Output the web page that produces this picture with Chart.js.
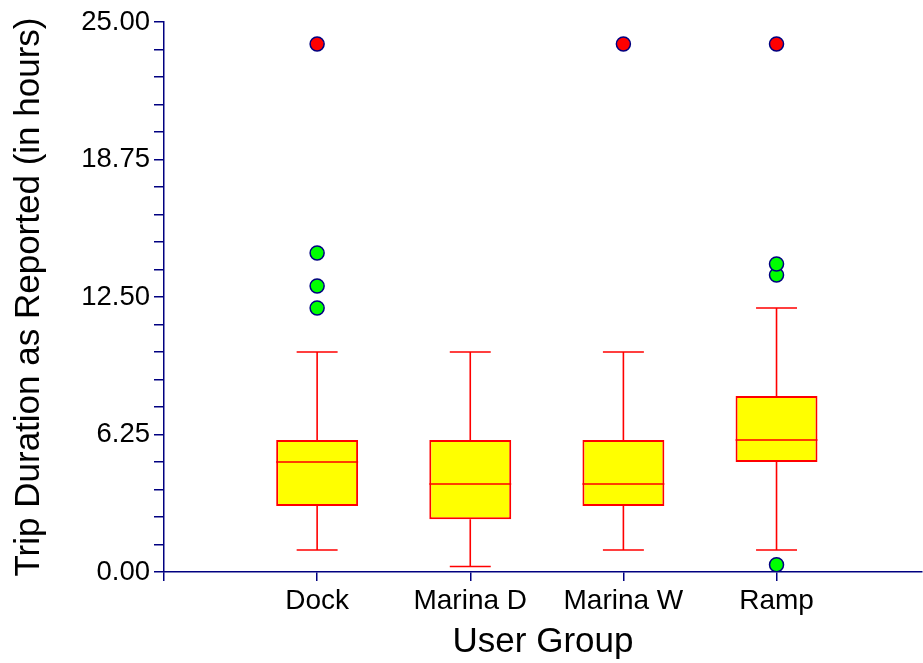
<!DOCTYPE html>
<html>
<head>
<meta charset="utf-8">
<script src="https://cdn.jsdelivr.net/npm/chart.js@4/dist/chart.umd.min.js"></script>
<style>
html,body{margin:0;padding:0;background:#fff;}
#wrap{width:923px;height:663px;}
</style>
</head>
<body>
<div id="wrap"><canvas id="chartTrips"></canvas></div>
<script>

// boat trip durations by user group (hours)
const groups = ["Dock", "Marina D", "Marina W", "Ramp"];
const groupPos = [1, 2, 3, 4];
const lowWhisker = [1, 0.25, 1, 1];
const q1 = [3, 2.4, 3, 5];
const median = [5, 4, 4, 6];
const q3 = [6, 6, 6, 8];
const highWhisker = [10, 10, 10, 12];
const nearOutliers = [[12, 13, 14.5], [], [], [0.33, 13.5, 14]];
const farOutliers = [[24], [], [24], [24]];

const yMin = 0;
const yMax = 25;
const yStep = 1.25;
const yLabelStep = 6.25;

const NAVY = "#000080";
const RED = "#ff0000";
const FONT = "'Liberation Sans', Arial, sans-serif";
const BOX_W = 0.535;   // box width in x units

function points(list){
  let out = [];
  list.forEach((vals, i) => vals.forEach(v => out.push({x: groupPos[i], y: v})));
  return out;
}

/* whiskers + medians */
const boxPlotLines = {
  id: "boxPlotLines",
  afterDatasetsDraw(chart){
    const x = chart.scales.x, y = chart.scales.y, ctx = chart.ctx;
    ctx.save();
    ctx.strokeStyle = RED;
    ctx.lineWidth = 1.6;
    groupPos.forEach((g, i) => {
      let cx = x.getPixelForValue(g);
      let capL = x.getPixelForValue(g - BOX_W / 4);
      let capR = x.getPixelForValue(g + BOX_W / 4);
      let boxL = x.getPixelForValue(g - BOX_W / 2);
      let boxR = x.getPixelForValue(g + BOX_W / 2);
      ctx.beginPath();
      ctx.moveTo(cx, y.getPixelForValue(q3[i]));
      ctx.lineTo(cx, y.getPixelForValue(highWhisker[i]));
      ctx.moveTo(capL, y.getPixelForValue(highWhisker[i]));
      ctx.lineTo(capR, y.getPixelForValue(highWhisker[i]));
      ctx.moveTo(cx, y.getPixelForValue(q1[i]));
      ctx.lineTo(cx, y.getPixelForValue(lowWhisker[i]));
      ctx.moveTo(capL, y.getPixelForValue(lowWhisker[i]));
      ctx.lineTo(capR, y.getPixelForValue(lowWhisker[i]));
      ctx.moveTo(boxL, y.getPixelForValue(median[i]));
      ctx.lineTo(boxR, y.getPixelForValue(median[i]));
      ctx.stroke();
    });
    ctx.restore();
  }
};

new Chart(document.getElementById("chartTrips"), {
  data: {
    datasets: [
      {
        type: "bar",
        data: groupPos.map((g, i) => ({x: g, y: [q1[i], q3[i]]})),
        backgroundColor: "#ffff00",
        borderColor: RED,
        borderWidth: 2,
        borderSkipped: false,
        categoryPercentage: 1,
        barPercentage: BOX_W,
        order: 3
      },
      {
        type: "scatter",
        data: points(nearOutliers),
        backgroundColor: "#00ff00",
        borderColor: NAVY,
        borderWidth: 1.5,
        pointRadius: 7,
        order: 1
      },
      {
        type: "scatter",
        data: points(farOutliers),
        backgroundColor: RED,
        borderColor: NAVY,
        borderWidth: 1.5,
        pointRadius: 7,
        order: 1
      }
    ]
  },
  options: {
    responsive: true,
    maintainAspectRatio: false,
    animation: false,
    layout: {autoPadding: false, padding: {top: 22, right: 1, left: 0, bottom: 0}},
    plugins: {legend: {display: false}, tooltip: {enabled: false}},
    scales: {
      x: {
        type: "linear",
        offset: false,
        min: 0,
        max: 4.95,
        afterBuildTicks: s => { s.ticks = [0].concat(groupPos).map(v => ({value: v})); },
        afterFit: s => { s.height = 91; },
        ticks: {
          autoSkip: false,
          maxRotation: 0,
          padding: 3,
          color: "#000",
          font: {family: FONT, size: 28},
          callback: v => groups[groupPos.indexOf(v)] || ""
        },
        grid: {offset: false, drawOnChartArea: false, drawTicks: true, tickLength: 9, color: NAVY, lineWidth: 1.5},
        border: {display: true, color: NAVY, width: 1.5},
        title: {display: true, text: "User Group", color: "#000", font: {family: FONT, size: 35}, padding: 0}
      },
      y: {
        min: yMin,
        max: yMax,
        afterBuildTicks: s => {
          let t = [];
          for (let v = yMin; v <= yMax + 1e-9; v += yStep) t.push({value: v});
          s.ticks = t;
        },
        afterFit: s => { s.width = 164; },
        ticks: {
          autoSkip: false,
          padding: 4,
          color: "#000",
          font: {family: FONT, size: 27.5},
          callback: v => {
            let r = v / yLabelStep;
            return Math.abs(r - Math.round(r)) < 1e-6 ? v.toFixed(2) : "";
          }
        },
        grid: {drawOnChartArea: false, drawTicks: true, tickLength: 10, color: NAVY, lineWidth: 1.5},
        border: {display: true, color: NAVY, width: 1.5},
        title: {display: true, text: "Trip Duration as Reported (in hours)", color: "#000", font: {family: FONT, size: 35}, padding: {top: 8, bottom: 0}}
      }
    }
  },
  plugins: [boxPlotLines]
});

</script>
</body>
</html>
